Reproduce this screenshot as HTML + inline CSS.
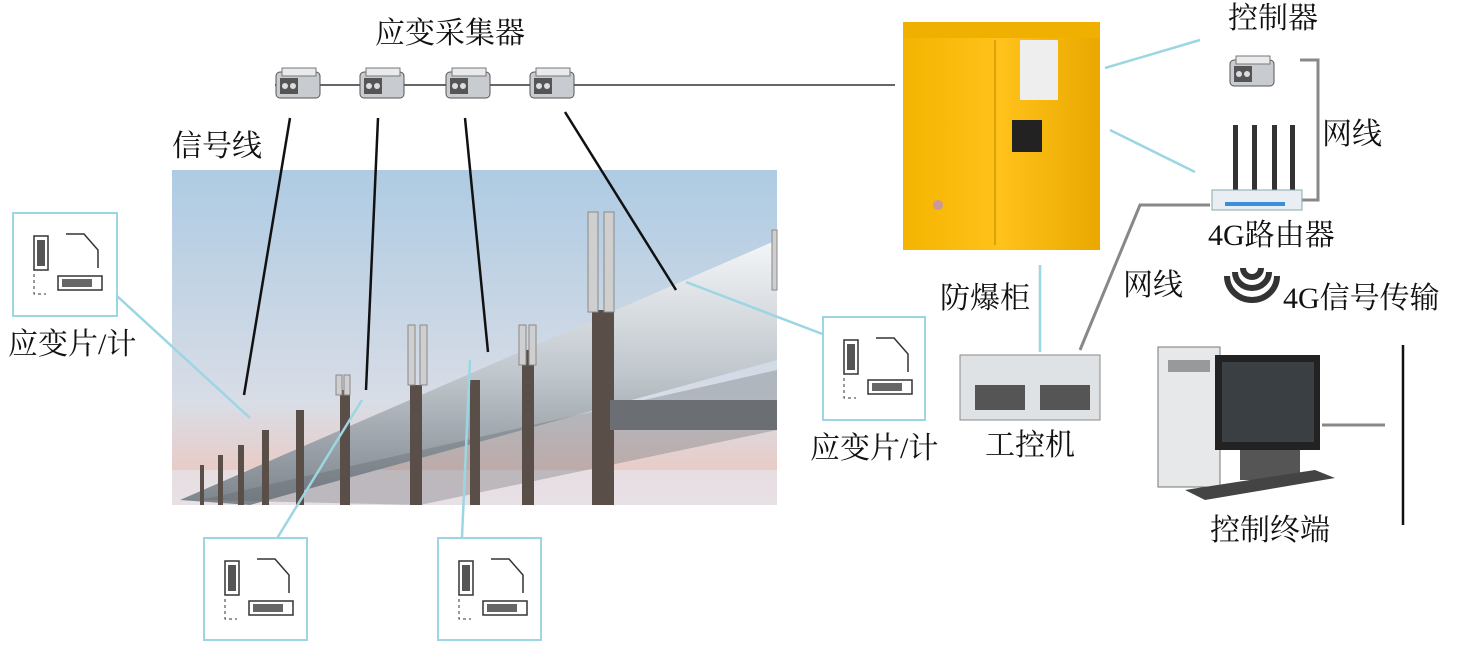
<!DOCTYPE html>
<html><head><meta charset="utf-8"><style>
body{margin:0;width:1458px;height:647px;background:#fff;position:relative;overflow:hidden;font-family:"Liberation Serif","Noto Serif CJK SC",serif;}
.t{position:absolute;font-size:30px;color:#111;white-space:nowrap;line-height:1}
.g{position:absolute;border:2px solid #9dd6e3;background:#fff;box-sizing:border-box}
</style></head><body>
<svg width="1458" height="647" style="position:absolute;left:0;top:0">
<defs>
<linearGradient id="sky" x1="0" y1="0" x2="0" y2="1"><stop offset="0" stop-color="#aecbe3"/><stop offset="0.7" stop-color="#d9dde6"/><stop offset="0.9" stop-color="#e9cbc6"/><stop offset="1" stop-color="#e8d6d8"/></linearGradient>
<linearGradient id="pipe" x1="0" y1="0" x2="0" y2="1"><stop offset="0" stop-color="#f4f6f8"/><stop offset="0.5" stop-color="#c0c7cd"/><stop offset="1" stop-color="#7c848c"/></linearGradient>
<linearGradient id="cab" x1="0" y1="0" x2="1" y2="0"><stop offset="0" stop-color="#f4b400"/><stop offset="0.5" stop-color="#ffc21a"/><stop offset="1" stop-color="#e9a800"/></linearGradient>
<g id="dev"><rect x="0" y="6" width="44" height="26" rx="4" fill="#c8ccd0" stroke="#555"/><rect x="4" y="12" width="18" height="16" fill="#555"/><circle cx="9" cy="20" r="3" fill="#ddd"/><circle cx="17" cy="20" r="3" fill="#ddd"/><rect x="6" y="2" width="34" height="8" fill="#e8eaec" stroke="#777"/></g>
<g id="gauge"><rect x="20" y="22" width="14" height="34" fill="#fff" stroke="#333" stroke-width="1.5"/><rect x="23" y="26" width="8" height="26" fill="#555"/><path d="M52 20h18l14 16v18" fill="none" stroke="#333" stroke-width="1.5"/><rect x="44" y="62" width="44" height="14" fill="#fff" stroke="#333" stroke-width="1.5"/><rect x="48" y="65" width="30" height="8" fill="#666"/><path d="M20 60v20h12" fill="none" stroke="#333" stroke-dasharray="3 3"/></g>
</defs>
<rect x="172" y="170" width="605" height="335" fill="url(#sky)"/>
<rect x="172" y="470" width="605" height="35" fill="#e6e2e8" opacity=".8"/>
<polygon points="180,500 777,240 777,360 250,505" fill="url(#pipe)"/>
<polygon points="200,500 777,370 777,430 420,505" fill="#5b5f63" opacity=".3"/>
<g fill="#5a4e48">
<rect x="592" y="310" width="22" height="195"/><rect x="522" y="350" width="12" height="155"/><rect x="470" y="380" width="10" height="125"/><rect x="410" y="385" width="12" height="120"/><rect x="340" y="390" width="10" height="115"/><rect x="296" y="410" width="8" height="95"/><rect x="262" y="430" width="7" height="75"/><rect x="238" y="445" width="6" height="60"/><rect x="218" y="455" width="5" height="50"/><rect x="200" y="465" width="4" height="40"/>
</g>
<g fill="#cfcfcf" stroke="#888"><rect x="588" y="212" width="10" height="100"/><rect x="604" y="212" width="10" height="100"/><rect x="519" y="325" width="7" height="40"/><rect x="529" y="325" width="7" height="40"/><rect x="408" y="325" width="7" height="60"/><rect x="420" y="325" width="7" height="60"/><rect x="336" y="375" width="6" height="20"/><rect x="344" y="375" width="6" height="20"/><rect x="772" y="230" width="5" height="60"/></g>
<rect x="610" y="400" width="167" height="30" fill="#6b6e72"/>
<line x1="275" y1="85" x2="895" y2="85" stroke="#666" stroke-width="2"/>
<g stroke="#111" stroke-width="2.5"><line x1="290" y1="118" x2="244" y2="395"/><line x1="378" y1="118" x2="366" y2="390"/><line x1="465" y1="118" x2="488" y2="352"/><line x1="565" y1="112" x2="676" y2="290"/></g>
<g stroke="#9dd6e3" stroke-width="2.5"><line x1="117" y1="296" x2="250" y2="418"/><line x1="686" y1="282" x2="825" y2="335"/><line x1="362" y1="400" x2="276" y2="540"/><line x1="470" y1="360" x2="462" y2="537"/><line x1="1105" y1="68" x2="1200" y2="40"/><line x1="1110" y1="130" x2="1195" y2="172"/><line x1="1040" y1="265" x2="1040" y2="352"/></g>
<g stroke="#888" stroke-width="3" fill="none"><polyline points="1080,350 1140,205 1210,205"/><polyline points="1300,60 1318,60 1318,200 1300,200"/><line x1="1322" y1="425" x2="1385" y2="425"/></g>
<line x1="1403" y1="345" x2="1403" y2="525" stroke="#111" stroke-width="2.5"/>
<use href="#dev" x="276" y="66"/><use href="#dev" x="360" y="66"/><use href="#dev" x="446" y="66"/><use href="#dev" x="530" y="66"/>
<use href="#dev" x="1230" y="54"/>
<rect x="903" y="22" width="197" height="228" fill="url(#cab)"/>
<rect x="903" y="22" width="197" height="16" fill="#f0b000"/>
<line x1="995" y1="40" x2="995" y2="245" stroke="#b88400"/>
<rect x="1020" y="40" width="38" height="60" fill="#eee"/>
<rect x="1012" y="120" width="30" height="32" fill="#222"/>
<circle cx="938" cy="205" r="5" fill="#c99"/>
<g fill="#333"><rect x="1233" y="125" width="5" height="70"/><rect x="1252" y="125" width="5" height="70"/><rect x="1272" y="125" width="5" height="70"/><rect x="1290" y="125" width="5" height="70"/></g>
<rect x="1212" y="190" width="90" height="20" fill="#e8eef4" stroke="#8aa"/>
<rect x="1225" y="202" width="60" height="4" fill="#3a8fd8"/>
<g fill="none" stroke="#333" stroke-width="6"><path d="M1243 268a9 9 0 0 0 18 0"/><path d="M1235 272a17 16 0 0 0 34 0"/><path d="M1227 276a25 24 0 0 0 50 0"/></g>
<rect x="960" y="355" width="140" height="65" fill="#dfe2e5" stroke="#888"/>
<rect x="975" y="385" width="50" height="25" fill="#555"/><rect x="1040" y="385" width="50" height="25" fill="#555"/>
<rect x="1158" y="347" width="62" height="140" fill="#e6e8ea" stroke="#777"/>
<rect x="1168" y="360" width="42" height="12" fill="#999"/>
<rect x="1215" y="355" width="105" height="95" fill="#222"/><rect x="1222" y="362" width="92" height="80" fill="#3a3f44"/>
<rect x="1240" y="450" width="60" height="30" fill="#555"/>
<polygon points="1185,490 1315,470 1335,478 1205,500" fill="#444"/>
</svg>
<div class="g" style="left:12px;top:212px;width:106px;height:105px"><svg width="100" height="100"><use href="#gauge"/></svg></div>
<div class="g" style="left:822px;top:316px;width:104px;height:105px"><svg width="100" height="100"><use href="#gauge"/></svg></div>
<div class="g" style="left:203px;top:537px;width:105px;height:104px"><svg width="100" height="100"><use href="#gauge"/></svg></div>
<div class="g" style="left:437px;top:537px;width:105px;height:104px"><svg width="100" height="100"><use href="#gauge"/></svg></div>
<div class="t" style="left:375px;top:19px">应变采集器</div>
<div class="t" style="left:172px;top:132px">信号线</div>
<div class="t" style="left:8px;top:330px">应变片/计</div>
<div class="t" style="left:810px;top:434px">应变片/计</div>
<div class="t" style="left:1228px;top:4px">控制器</div>
<div class="t" style="left:1322px;top:120px">网线</div>
<div class="t" style="left:1208px;top:221px">4G路由器</div>
<div class="t" style="left:1123px;top:271px">网线</div>
<div class="t" style="left:940px;top:284px">防爆柜</div>
<div class="t" style="left:1283px;top:284px">4G信号传输</div>
<div class="t" style="left:985px;top:431px">工控机</div>
<div class="t" style="left:1210px;top:516px">控制终端</div>
</body></html>
